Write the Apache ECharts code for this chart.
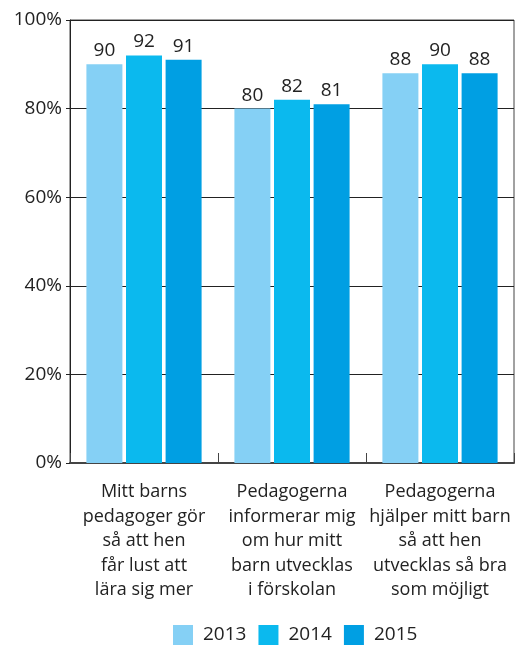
<!DOCTYPE html>
<html>
<head>
<meta charset="utf-8">
<script src="https://cdn.jsdelivr.net/npm/echarts@6/dist/echarts.min.js"></script>
<style>
  html, body { margin: 0; padding: 0; background: #fff; }
  #chart { width: 531px; height: 662px; }
</style>
</head>
<body>
<div id="chart"></div>
<script>
const categories = [
  'Mitt barns\npedagoger gör\nså att hen\nfår lust att\nlära sig mer',
  'Pedagogerna\ninformerar mig\nom hur mitt\nbarn utvecklas\ni förskolan',
  'Pedagogerna\nhjälper mitt barn\nså att hen\nutvecklas så bra\nsom möjligt'
]
const years = ['2013', '2014', '2015']
const values2013 = [90, 80, 88]
const values2014 = [92, 82, 90]
const values2015 = [91, 81, 88]
const colors = ['#85d0f5', '#0bb9ee', '#009fe3']

const font = 'Open Sans'
const seriesValues = [values2013, values2014, values2015]

const chart = echarts.init(document.getElementById('chart'))

chart.setOption({
  animation: false,
  textStyle: { fontFamily: font },
  grid: {
    left: 70, right: 17, top: 20, bottom: 199,
    show: true, borderColor: '#444', borderWidth: 1
  },
  legend: {
    top: 620,
    left: 168,
    itemWidth: 20,
    itemHeight: 20,
    itemGap: 12,
    icon: 'rect',
    textStyle: { fontSize: 19, color: '#222', fontFamily: font, padding: [0, 0, 0, 5] },
    data: years
  },
  xAxis: {
    type: 'category',
    data: categories,
    axisLine: { lineStyle: { color: '#444', width: 2 } },
    axisTick: { show: true, inside: true, length: 10, lineStyle: { color: '#444' } },
    axisLabel: {
      interval: 0,
      margin: 17,
      fontSize: 18,
      lineHeight: 24.5,
      color: '#222',
      fontFamily: font
    }
  },
  yAxis: {
    type: 'value',
    min: 0, max: 100, interval: 20,
    axisLine: { show: true, lineStyle: { color: '#222' } },
    axisTick: { show: true, length: 4, lineStyle: { color: '#222' } },
    splitLine: { show: true, lineStyle: { color: '#222', width: 1 } },
    axisLabel: {
      formatter: '{value}%',
      fontSize: 19,
      color: '#222',
      margin: 8,
      fontFamily: font
    }
  },
  series: years.map((y, i) => ({
    name: y,
    type: 'bar',
    data: seriesValues[i],
    barWidth: 36,
    barGap: '10%',
    itemStyle: { color: colors[i] },
    label: {
      show: true,
      position: 'top',
      distance: 4,
      fontSize: 19,
      color: '#222',
      fontFamily: font
    }
  }))
})
</script>
</body>
</html>
